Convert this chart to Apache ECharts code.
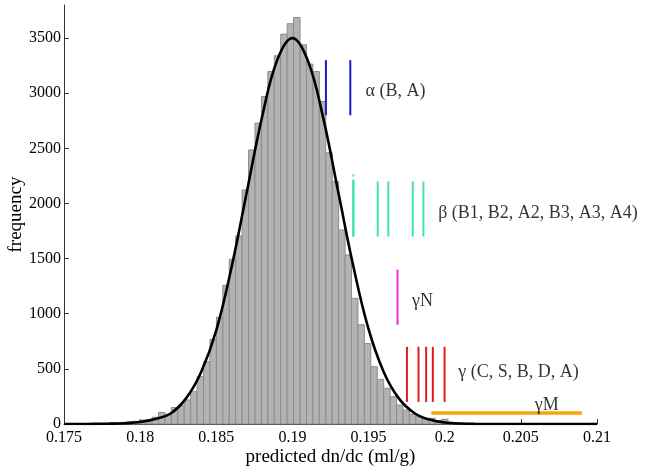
<!DOCTYPE html>
<html><head><meta charset="utf-8">
<script src="https://cdn.jsdelivr.net/npm/echarts@6/dist/echarts.min.js"></script>
<style>html,body{margin:0;padding:0;background:#fff}#c{width:649px;height:473px}</style>
</head><body><div id="c"></div>
<script>
// ---- data ----
const firstBinEdge = 0.17529;
const binWidth = 0.0004225;
const binCounts = [1,1,2,2,3,5,7,10,15,20,24,36,38,61,106,85,150,165,218,293,429,565,768,968,1258,1494,1706,2123,2486,2729,2970,3197,3339,3536,3630,3687,3439,3264,3197,2925,2460,2199,1760,1533,1140,900,730,520,405,324,248,172,127,88,66,43,52,30,43,15,10,8,5,3,2,1];
const curveX = [0.175,0.176,0.177,0.178,0.179,0.180,0.181,0.182,0.183,0.184,0.185,0.186,0.187,0.188,0.189,0.190,0.191,0.192,0.193,0.194,0.195,0.196,0.197,0.198,0.199,0.200,0.201,0.202,0.203,0.204,0.205,0.206,0.207,0.208,0.209,0.210];
const curveY = [0,0,1,3,7,18,45,95,230,470,850,1420,2100,2780,3300,3500,3300,2790,2110,1430,860,470,230,100,40,14,4,1,0,0,0,0,0,0,0,0];
const alphaX = [0.1922, 0.1938];           const alphaRange = [2800, 3300];
const betaX  = [0.1940, 0.1940, 0.1956, 0.1963, 0.1979, 0.1986]; const betaRange = [1700, 2200];
const gammaNX = [0.1969];                  const gammaNRange = [900, 1400];
const gammaX = [0.19752, 0.19828, 0.19878, 0.19922, 0.19999]; const gammaRange = [200, 700];
const gammaMRange = [0.19912, 0.20901];    const gammaMY = 100;
const annotations = [
  {text: 'α (B, A)', x: 0.1948, y: 3015, pos: 'right'},
  {text: 'β (B1, B2, A2, B3, A3, A4)', x: 0.19957, y: 1915, pos: 'right'},
  {text: 'γN', x: 0.19785, y: 1110, pos: 'right'},
  {text: 'γ (C, S, B, D, A)', x: 0.20089, y: 466, pos: 'right'},
  {text: 'γM', x: 0.2067, y: 172, pos: 'inside'}
];
const xTicks = [0.175,0.18,0.185,0.19,0.195,0.2,0.205,0.21];
const yTicks = [0,500,1000,1500,2000,2500,3000,3500];

// ---- build ----
const FONT = '"Liberation Serif","DejaVu Serif",serif';
const hist = binCounts.map((c,i)=>[firstBinEdge+i*binWidth, firstBinEdge+(i+1)*binWidth, c]);
const series = [];
series.push({
  type:'custom', data: hist, encode:{x:[0,1], y:2}, z:1, silent:true,
  renderItem:(params, api)=>{
    const p0 = api.coord([api.value(0), api.value(2)]);
    const p1 = api.coord([api.value(1), 0]);
    return {type:'rect', shape:{x:p0[0], y:p0[1], width:p1[0]-p0[0], height:p1[1]-p0[1]},
            style:{fill:'#b3b3b3', stroke:'#8c8c8c', lineWidth:1}};
  }
});
series.push({type:'line', data: curveX.map((x,i)=>[x,curveY[i]]), smooth:0.4, showSymbol:false,
  lineStyle:{color:'#000', width:2.6}, z:5, silent:true});
function vlines(xs, range, color, w){
  xs.forEach(x=>series.push({type:'line', data:[[x,range[0]],[x,range[1]]], showSymbol:false,
    lineStyle:{color, width:w}, z:6, silent:true}));
}
vlines(alphaX, alphaRange, '#1a1ac8', 2);
vlines(betaX, betaRange, '#3de6a6', 2);
series.push({type:'line', data:[[betaX[0],betaRange[1]],[betaX[0],betaRange[1]+80]], showSymbol:false,
  lineStyle:{color:'#3de6a6', width:2, type:[2,3]}, z:6, silent:true});
vlines(gammaNX, gammaNRange, '#e62ee6', 2);
vlines(gammaX, gammaRange, '#e61a1a', 2);
series.push({type:'line', data:[[gammaMRange[0],gammaMY],[gammaMRange[1],gammaMY]], showSymbol:false,
  lineStyle:{color:'#f5a60a', width:3.5}, z:6, silent:true});
series.push({type:'scatter', symbolSize:0, z:7, silent:true,
  data: annotations.map(a=>({value:[a.x,a.y], name:a.text, label:{position:a.pos}})),
  label:{show:true, distance:0, formatter:p=>p.name,
    fontFamily:FONT, fontSize:18, color:'#000'}});

const chart = echarts.init(document.getElementById('c'), null, {renderer:'canvas'});
chart.setOption({
  animation:false,
  backgroundColor:'#fff',
  grid:{left:64, right:52, top:5, bottom:49, containLabel:false, outerBoundsMode:'none'},
  xAxis:{type:'value', min:0.175, max:0.21, interval:0.005,
    name:'predicted dn/dc (ml/g)', nameLocation:'middle', nameGap:24, nameMoveOverlap:false,
    nameTextStyle:{fontFamily:FONT, fontSize:19, color:'#000'},
    axisLine:{show:true, lineStyle:{color:'#333', width:1}},
    axisTick:{show:true, inside:true, length:5, lineStyle:{color:'#333'}},
    axisLabel:{fontFamily:FONT, fontSize:16, color:'#000', margin:6,
      formatter:v=>String(+v.toFixed(3))},
    splitLine:{show:false}},
  yAxis:{type:'value', min:0, max:3800,
    name:'frequency', nameLocation:'middle', nameGap:38, nameMoveOverlap:false,
    nameTextStyle:{fontFamily:FONT, fontSize:19, color:'#000'},
    axisLine:{show:true, lineStyle:{color:'#333', width:1}},
    axisTick:{show:true, inside:true, length:5, lineStyle:{color:'#333'}, customValues:yTicks},
    axisLabel:{fontFamily:FONT, fontSize:16, color:'#000', margin:3, customValues:yTicks,
      formatter:v=>String(v)},
    splitLine:{show:false}},
  series
});
</script></body></html>
